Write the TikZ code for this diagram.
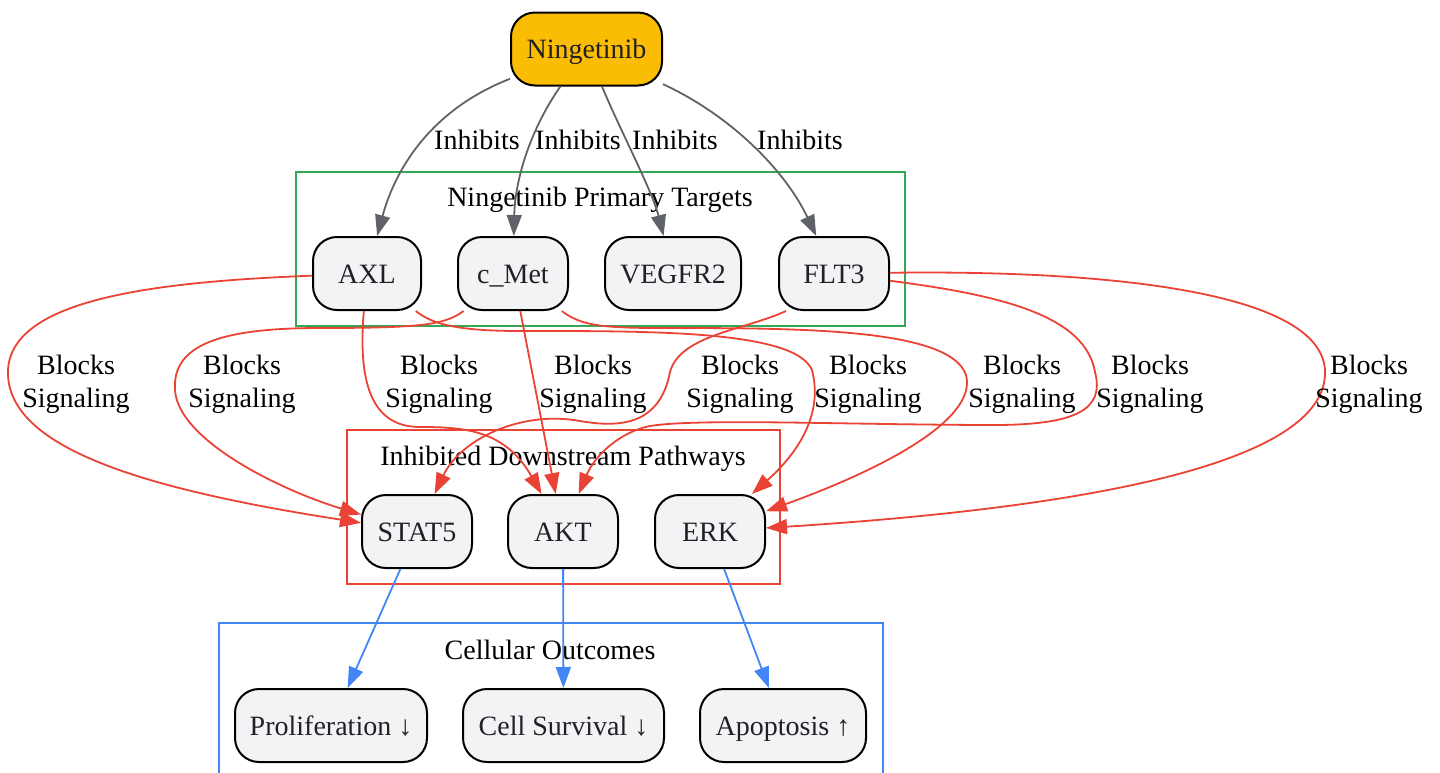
\documentclass[tikz,border=0pt]{standalone}
\usepackage{fontspec}
\setmainfont{Liberation Serif}
\usetikzlibrary{arrows.meta}
\definecolor{cgray}{HTML}{5F6368}
\definecolor{cred}{HTML}{EA4335}
\definecolor{cblue}{HTML}{4285F4}
\definecolor{cgreen}{HTML}{34A853}
\definecolor{nodefill}{HTML}{F1F3F4}
\definecolor{nodetext}{HTML}{202124}
\definecolor{drugfill}{HTML}{FBBC04}
\begin{document}
\begin{tikzpicture}[x=0.5pt,y=-0.5pt,
  box/.style={draw=black, line width=1pt, rounded corners=12pt, fill=nodefill, text=nodetext,
    font=\fontsize{14}{16.5}\selectfont, minimum height=36.5pt, text height=9.5pt, text depth=0pt, inner sep=0pt},
  tip/.style={-{Triangle[length=10.5pt,width=7.5pt]}},
  inh/.style={draw=cgray, line width=0.9pt, tip},
  blk/.style={draw=cred, line width=0.9pt, tip},
  outc/.style={draw=cblue, line width=0.9pt, tip},
  lbl/.style={font=\fontsize{14}{16.5}\selectfont, inner sep=0pt, align=center, text=black},
  clus/.style={line width=1pt}
]
\useasboundingbox (0,0) rectangle (1440,772);

% clusters
\draw[clus, draw=cgreen] (296,172) rectangle (905,326);
\draw[clus, draw=cred] (347,430) rectangle (780,584);
\draw[clus, draw=cblue] (219,623) rectangle (883,800);
\node[lbl, anchor=base] (lgreen) at (600,206) {Ningetinib Primary Targets};
\node[lbl, anchor=base] (lred) at (563,465) {Inhibited Downstream Pathways};
\node[lbl, anchor=base] (lblue) at (550,659) {Cellular Outcomes};

% nodes
\node[box, fill=drugfill, minimum width=75.5pt] (nin) at (586.5,49) {Ningetinib};
\node[box, minimum width=54pt] (axl) at (367,273.5) {AXL};
\node[box, minimum width=55pt] (cmet) at (513,273.5) {c\_Met};
\node[box, minimum width=68pt] (vegfr) at (673,273.5) {VEGFR2};
\node[box, minimum width=55pt] (flt3) at (834,273.5) {FLT3};
\node[box, minimum width=55pt] (stat5) at (417,531.5) {STAT5};
\node[box, minimum width=55pt] (akt) at (563,531.5) {AKT};
\node[box, minimum width=55pt] (erk) at (710,531.5) {ERK};
\node[box, minimum width=96pt] (prolif) at (331,725.5) {Proliferation ↓};
\node[box, minimum width=100.5pt] (surv) at (563.5,725.5) {Cell Survival ↓};
\node[box, minimum width=83pt] (apop) at (783,725.5) {Apoptosis ↑};

% inhibits edges
\draw[inh] (nin) .. controls (430,110) and (395,170) .. (axl);
\draw[inh] (nin) .. controls (530,130) and (515,180) .. (cmet);
\draw[inh] (nin) .. controls (620,130) and (652,190) .. (vegfr);
\draw[inh] (nin) .. controls (730,115) and (785,170) .. (flt3);
\node[lbl, anchor=base] (i1) at (477,149) {Inhibits};
\node[lbl, anchor=base] (i2) at (578,149) {Inhibits};
\node[lbl, anchor=base] (i3) at (675,149) {Inhibits};
\node[lbl, anchor=base] (i4) at (800,149) {Inhibits};

% blocks edges
\draw[blk] (axl) .. controls (150,282) and (5,300) .. (8,375) .. controls (11,450) and (150,490) .. (stat5);
\draw[blk] (cmet) .. controls (445,325) and (420,328) .. (320,328) .. controls (220,328) and (172,345) .. (175,390) .. controls (178,440) and (280,490) .. (stat5);
\draw[blk] (axl) .. controls (358,380) and (370,427) .. (420,427) .. controls (465,427) and (505,430) .. (akt);
\draw[blk] (cmet) -- (akt);
\draw[blk] (flt3.218) .. controls (745,330) and (680,335) .. (670,372) .. controls (660,425) and (620,428) .. (580,421) .. controls (520,410) and (460,440) .. (stat5);
\draw[blk] (axl) .. controls (430,322) and (450,331) .. (520,331) .. controls (650,331) and (795,330) .. (812,370) .. controls (825,420) and (790,460) .. (erk);
\draw[blk] (cmet) .. controls (580,325) and (600,328) .. (660,328) .. controls (800,328) and (950,328) .. (966,375) .. controls (978,420) and (880,470) .. (erk);
\draw[blk] (flt3) .. controls (1000,295) and (1085,315) .. (1095,372) .. controls (1105,410) and (1075,424) .. (1000,425) .. controls (850,425) and (700,418) .. (650,426) .. controls (620,432) and (595,455) .. (akt);
\draw[blk] (flt3) .. controls (1100,270) and (1320,290) .. (1325,370) .. controls (1330,470) and (1050,510) .. (erk);

\node[lbl] (b1) at (76,384) {Blocks\\Signaling};
\node[lbl] (b2) at (242,384) {Blocks\\Signaling};
\node[lbl] (b3) at (439,384) {Blocks\\Signaling};
\node[lbl] (b4) at (593,384) {Blocks\\Signaling};
\node[lbl] (b5) at (740,384) {Blocks\\Signaling};
\node[lbl] (b6) at (868,384) {Blocks\\Signaling};
\node[lbl] (b7) at (1022,384) {Blocks\\Signaling};
\node[lbl] (b8) at (1150,384) {Blocks\\Signaling};
\node[lbl] (b9) at (1369,384) {Blocks\\Signaling};

% outcome edges
\draw[outc] (stat5) -- (prolif);
\draw[outc] (akt) -- (surv);
\draw[outc] (erk) -- (apop);
\end{tikzpicture}
\end{document}
